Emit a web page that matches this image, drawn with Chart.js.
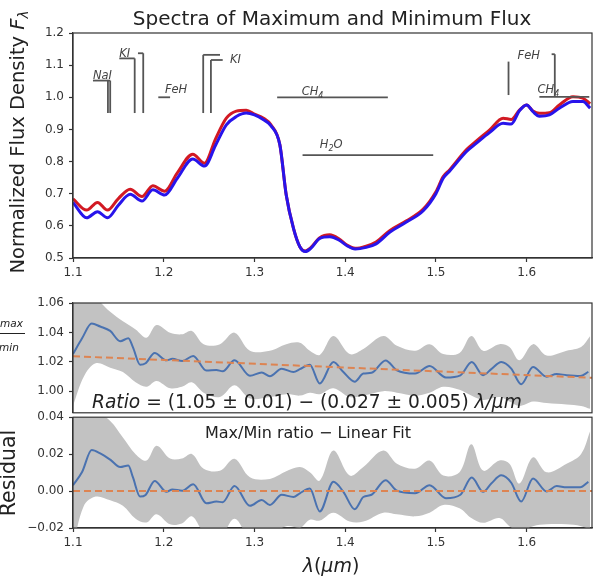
<!DOCTYPE html>
<html><head><meta charset="utf-8">
<script src="https://cdn.jsdelivr.net/npm/chart.js@4"></script>
<style>
html,body{margin:0;padding:0;background:#fff;}
#wrap{position:relative;width:600px;height:580px;overflow:hidden;background:#fff;}
canvas{position:absolute;left:0;}
</style></head><body>
<div id="wrap">
<canvas id="c1" width="600" height="290" style="top:0px"></canvas>
<canvas id="c2" width="600" height="135" style="top:290px"></canvas>
<canvas id="c3" width="600" height="175" style="top:405px"></canvas>
</div>
<script>
// ---------- data ----------
const xTicks = [1.1, 1.2, 1.3, 1.4, 1.5, 1.6];
const topYTicks = [0.5, 0.6, 0.7, 0.8, 0.9, 1.0, 1.1, 1.2];
const ratioYTicks = [1.00, 1.02, 1.04, 1.06];
const residYTicks = [-0.02, 0.00, 0.02, 0.04];

const topLambda = [1.100,1.115,1.127,1.138,1.150,1.163,1.176,1.188,1.201,1.215,1.232,1.245,1.257,1.269,1.280,1.291,1.300,1.310,1.318,1.328,1.335,1.343,1.350,1.356,1.362,1.372,1.383,1.393,1.402,1.411,1.423,1.434,1.449,1.467,1.486,1.500,1.508,1.515,1.534,1.545,1.559,1.574,1.583,1.592,1.600,1.607,1.614,1.625,1.636,1.651,1.662,1.670];
const fluxMax = [0.684,0.649,0.673,0.649,0.685,0.714,0.691,0.725,0.708,0.765,0.823,0.795,0.870,0.935,0.957,0.960,0.948,0.935,0.915,0.852,0.696,0.592,0.535,0.522,0.532,0.563,0.572,0.560,0.540,0.530,0.537,0.550,0.585,0.615,0.652,0.706,0.753,0.774,0.838,0.865,0.898,0.935,0.931,0.960,0.976,0.957,0.950,0.952,0.976,1.002,0.997,0.980];
const fluxMin = [0.673,0.625,0.644,0.625,0.664,0.698,0.677,0.712,0.696,0.748,0.808,0.786,0.850,0.914,0.940,0.951,0.945,0.930,0.912,0.852,0.696,0.592,0.535,0.520,0.530,0.561,0.566,0.556,0.538,0.528,0.533,0.544,0.580,0.611,0.647,0.700,0.748,0.770,0.832,0.858,0.890,0.919,0.917,0.958,0.976,0.955,0.941,0.945,0.966,0.987,0.987,0.966];

const ratioLambda = [1.100,1.110,1.1206,1.130,1.141,1.152,1.161,1.166,1.174,1.180,1.190,1.203,1.2095,1.2205,1.2325,1.247,1.258,1.265,1.278,1.295,1.308,1.317,1.330,1.343,1.350,1.361,1.372,1.387,1.398,1.4105,1.420,1.429,1.4445,1.457,1.477,1.493,1.511,1.527,1.5395,1.552,1.561,1.572,1.583,1.594,1.607,1.622,1.633,1.644,1.659,1.668];
const ratio = [1.0253,1.036,1.046,1.044,1.041,1.034,1.036,1.030,1.018,1.019,1.026,1.021,1.022,1.0205,1.024,1.014,1.0145,1.0135,1.021,1.0105,1.0127,1.0102,1.0153,1.0131,1.0150,1.0180,1.0053,1.0198,1.013,1.0065,1.012,1.0125,1.0209,1.0142,1.012,1.0171,1.0093,1.0108,1.0198,1.0109,1.015,1.0198,1.0153,1.0047,1.0164,1.0098,1.0117,1.0109,1.0104,1.0131];
const residual = [0.0032,0.0103,0.0222,0.0204,0.0170,0.0130,0.0139,0.0075,-0.0030,-0.0021,0.0055,-0.0004,0.0009,0.0002,0.0037,-0.0066,-0.0057,-0.0060,0.0027,-0.0080,-0.0048,-0.0075,-0.0020,-0.0032,-0.0012,0.0014,-0.0110,0.0050,-0.0004,-0.0098,-0.0032,-0.0020,0.0059,0.0002,-0.0012,0.0032,-0.0039,-0.0020,0.0073,-0.0004,0.0041,0.0085,0.0045,-0.0057,0.0068,-0.0002,0.0027,0.0020,0.0020,0.0050];

const bandLambda = [1.100,1.112,1.125,1.141,1.155,1.169,1.181,1.192,1.207,1.220,1.231,1.244,1.262,1.278,1.295,1.317,1.335,1.350,1.361,1.372,1.387,1.405,1.420,1.442,1.457,1.477,1.493,1.508,1.526,1.539,1.552,1.570,1.581,1.592,1.607,1.622,1.644,1.660,1.670];
const ratioUpper = [1.065,1.066,1.063,1.054,1.0475,1.042,1.0364,1.045,1.0398,1.0387,1.041,1.032,1.032,1.0398,1.0275,1.0275,1.032,1.033,1.0275,1.0247,1.0375,1.0253,1.0287,1.0375,1.0309,1.0275,1.032,1.0253,1.026,1.0375,1.0275,1.032,1.030,1.021,1.032,1.0242,1.0275,1.030,1.0375];
const ratioLower = [0.990,1.010,1.019,1.016,1.013,1.006,1.003,1.007,1.002,1.003,1.006,0.999,0.996,1.004,0.995,0.996,0.998,0.997,0.999,0.998,1.002,0.996,0.997,1.000,0.999,0.997,0.999,1.003,1.001,0.997,0.994,0.996,0.993,0.990,0.993,0.992,0.991,0.990,0.988];
const residUpper = [0.045,0.045,0.043,0.038,0.029,0.020,0.0165,0.0245,0.0176,0.0176,0.0201,0.0121,0.011,0.0175,0.0075,0.0066,0.0107,0.013,0.0102,0.0057,0.0219,0.0084,0.013,0.0219,0.0148,0.0121,0.0165,0.0084,0.0102,0.0254,0.0111,0.0165,0.0148,0.0041,0.0183,0.0102,0.0148,0.0201,0.0325];
const residLower = [-0.030,-0.008,-0.003,-0.005,-0.008,-0.015,-0.017,-0.0125,-0.018,-0.0175,-0.0137,-0.022,-0.025,-0.015,-0.025,-0.024,-0.019,-0.020,-0.0155,-0.016,-0.0117,-0.0165,-0.0165,-0.0117,-0.0126,-0.0137,-0.0117,-0.0075,-0.0093,-0.0146,-0.0172,-0.0146,-0.019,-0.022,-0.019,-0.018,-0.018,-0.019,-0.021];

const fitLambda = [1.100, 1.672];
const fitRatio = [1.0238, 1.0091];
const fitResidual = [0.0, 0.0];

// line annotations in data coords: [x1, y1, x2, y2]
const featureLines = [
  [1.122,1.052,1.141,1.052],[1.1385,1.052,1.1385,0.951],[1.141,1.052,1.141,0.951],
  [1.151,1.121,1.168,1.121],[1.168,1.121,1.168,0.951],[1.1716,1.137,1.1774,1.137],[1.1774,1.137,1.1774,0.951],
  [1.194,1.000,1.207,1.000],
  [1.2435,1.132,1.262,1.132],[1.2435,1.132,1.2435,0.951],[1.252,1.116,1.265,1.116],[1.252,1.116,1.252,0.951],
  [1.325,1.000,1.447,1.000],
  [1.353,0.820,1.497,0.820],
  [1.580,1.111,1.580,1.007],
  [1.6275,1.134,1.631,1.134],[1.631,1.134,1.631,1.004],
  [1.614,1.001,1.669,1.001]
];
// labels: [text, subscript, after, x, y]
const featureLabels = [
  ['NaI','','',1.122,1.057],
  ['KI','','',1.151,1.124],
  ['FeH','','',1.2013,1.012],
  ['KI','','',1.273,1.108],
  ['CH','4','',1.352,1.008],
  ['H','2','O',1.372,0.842],
  ['FeH','','',1.590,1.120],
  ['CH','4','',1.612,1.012]
];

// ---------- helpers ----------
const FAM = '"DejaVu Sans", "Liberation Sans", sans-serif';
const pts = (xs, ys) => xs.map((x, i) => ({x: x, y: ys[i]}));
function runs(ctx, x, y, parts, align) {
  let total = 0;
  parts.forEach(p => { ctx.font = p[1]; total += ctx.measureText(p[0]).width; });
  let cx = align === 'center' ? x - total / 2 : x;
  parts.forEach(p => { ctx.font = p[1]; ctx.fillText(p[0], cx, y + (p[2] || 0)); cx += ctx.measureText(p[0]).width; });
  return total;
}
function frame(chart) {
  const {ctx, chartArea: a} = chart;
  ctx.save(); ctx.strokeStyle = '#333'; ctx.lineWidth = 1.2;
  ctx.strokeRect(a.left, a.top, a.right - a.left, a.bottom - a.top);
  ctx.restore();
}
function xScale(display) {
  return {
    type: 'linear', min: 1.1, max: 1.672, display: display,
    afterBuildTicks: s => { s.ticks = xTicks.map(v => ({value: v})); },
    afterFit: s => { s.height = display ? 30 : 0; },
    ticks: {autoSkip: false, maxRotation: 0, callback: v => v.toFixed(1), font: {family: FAM, size: 12}, color: '#333', padding: 4},
    grid: {display: true, drawOnChartArea: false, drawTicks: true, tickLength: 4, color: '#333', tickWidth: 1.2},
    border: {display: true, color: '#333', width: 1.2}
  };
}
function yScale(min, max, ticks, fmt) {
  return {
    type: 'linear', min: min, max: max,
    afterBuildTicks: s => { s.ticks = ticks.map(v => ({value: v})); },
    afterFit: s => { s.width = 73; },
    ticks: {autoSkip: false, callback: fmt, font: {family: FAM, size: 12}, color: '#333', padding: 5},
    grid: {display: true, drawOnChartArea: false, drawTicks: true, tickLength: 4, color: '#333', tickWidth: 1.2},
    border: {display: true, color: '#333', width: 1.2}
  };
}
const base = {
  responsive: false, animation: false, devicePixelRatio: 1,
  plugins: {legend: {display: false}, tooltip: {enabled: false}, title: {display: false}},
  elements: {point: {radius: 0}}
};

// ---------- top chart ----------
new Chart(document.getElementById('c1'), {
  type: 'line',
  data: {datasets: [
    {data: pts(topLambda, fluxMin), borderColor: 'rgb(40,20,235)', borderWidth: 3, cubicInterpolationMode: 'monotone', fill: false},
    {data: pts(topLambda, fluxMax), borderColor: 'rgb(210,25,35)', borderWidth: 3, cubicInterpolationMode: 'monotone', fill: false}
  ]},
  options: Object.assign({}, base, {
    layout: {padding: {left: 0, right: 8, top: 33, bottom: 2}},
    scales: {x: xScale(true), y: yScale(0.5, 1.2, topYTicks, v => v.toFixed(1))}
  }),
  plugins: [{id: 'topdeco', afterDraw(chart) {
    frame(chart);
    const ctx = chart.ctx, sx = chart.scales.x, sy = chart.scales.y;
    ctx.save();
    ctx.strokeStyle = '#555'; ctx.lineWidth = 1.8;
    featureLines.forEach(l => {
      ctx.beginPath();
      ctx.moveTo(sx.getPixelForValue(l[0]), sy.getPixelForValue(l[1]));
      ctx.lineTo(sx.getPixelForValue(l[2]), sy.getPixelForValue(l[3]));
      ctx.stroke();
    });
    ctx.fillStyle = '#444'; ctx.textBaseline = 'alphabetic';
    featureLabels.forEach(t => {
      const parts = [[t[0], 'italic 11.5px ' + FAM, 0]];
      if (t[1]) parts.push([t[1], 'italic 8px ' + FAM, 3]);
      if (t[2]) parts.push([t[2], 'italic 11.5px ' + FAM, 0]);
      runs(ctx, sx.getPixelForValue(t[3]), sy.getPixelForValue(t[4]), parts, 'left');
    });
    ctx.fillStyle = '#222';
    runs(ctx, 332, 25, [['Spectra of Maximum and Minimum Flux', '20px ' + FAM, 0]], 'center');
    ctx.translate(24, 142); ctx.rotate(-Math.PI / 2);
    runs(ctx, 0, 0, [['Normalized Flux Density ', '19.5px ' + FAM, 0], ['F', 'italic 19.5px ' + FAM, 0], ['λ', 'italic 13.5px ' + FAM, 4]], 'center');
    ctx.restore();
  }}]
});

// ---------- ratio chart ----------
new Chart(document.getElementById('c2'), {
  type: 'line',
  data: {datasets: [
    {data: pts(fitLambda, fitRatio), borderColor: '#dd8452', borderWidth: 2, borderDash: [7, 4], fill: false},
    {data: pts(ratioLambda, ratio), borderColor: '#4a72b0', borderWidth: 2, cubicInterpolationMode: 'monotone', fill: false},
    {data: pts(bandLambda, ratioUpper), borderColor: 'rgba(0,0,0,0)', borderWidth: 0, tension: 0.35, fill: false},
    {data: pts(bandLambda, ratioLower), borderColor: 'rgba(0,0,0,0)', borderWidth: 0, tension: 0.35, fill: '-1', backgroundColor: '#c2c2c2'}
  ]},
  options: Object.assign({}, base, {
    layout: {padding: {left: 0, right: 8, top: 13, bottom: 10}},
    scales: {x: xScale(false), y: yScale(0.9853, 1.06, ratioYTicks, v => v.toFixed(2))}
  }),
  plugins: [{id: 'middeco', afterDraw(chart) {
    frame(chart);
    const ctx = chart.ctx;
    ctx.save();
    ctx.fillStyle = '#222'; ctx.textBaseline = 'alphabetic';
    const mid = ' = (1.05 ± 0.01) − (0.027 ± 0.005) ';
    let fs = 17;
    ctx.font = 'italic ' + fs + 'px ' + FAM;
    let w = ctx.measureText('Ratio').width + ctx.measureText('λ/μm').width;
    ctx.font = fs + 'px ' + FAM; w += ctx.measureText(mid).width;
    fs = Math.min(19, fs * 430 / w);
    runs(ctx, 92, 118, [['Ratio', 'italic ' + fs + 'px ' + FAM, 0], [mid, fs + 'px ' + FAM, 0], ['λ/μm', 'italic ' + fs + 'px ' + FAM, 0]], 'left');
    ctx.font = 'italic 16px ' + FAM; ctx.fillText('F', -13, 36); ctx.fillText('F', -14, 61);
    ctx.font = 'italic 10.5px ' + FAM; ctx.fillText('max', 0, 37); ctx.fillText('min', -1, 61);
    ctx.strokeStyle = '#222'; ctx.lineWidth = 1;
    ctx.beginPath(); ctx.moveTo(-2, 43.5); ctx.lineTo(25, 43.5); ctx.stroke();
    ctx.restore();
  }}]
});

// ---------- residual chart ----------
new Chart(document.getElementById('c3'), {
  type: 'line',
  data: {datasets: [
    {data: pts(fitLambda, fitResidual), borderColor: '#dd8452', borderWidth: 2, borderDash: [7, 4], fill: false},
    {data: pts(ratioLambda, residual), borderColor: '#4a72b0', borderWidth: 2, cubicInterpolationMode: 'monotone', fill: false},
    {data: pts(bandLambda, residUpper), borderColor: 'rgba(0,0,0,0)', borderWidth: 0, tension: 0.35, fill: false},
    {data: pts(bandLambda, residLower), borderColor: 'rgba(0,0,0,0)', borderWidth: 0, tension: 0.35, fill: '-1', backgroundColor: '#c2c2c2'}
  ]},
  options: Object.assign({}, base, {
    layout: {padding: {left: 0, right: 8, top: 10, bottom: 22}},
    scales: {x: xScale(true), y: yScale(-0.02, 0.04, residYTicks, v => (v < 0 ? '−' : '') + Math.abs(v).toFixed(2))}
  }),
  plugins: [{id: 'botdeco', afterDraw(chart) {
    frame(chart);
    const ctx = chart.ctx;
    ctx.save();
    ctx.fillStyle = '#222'; ctx.textBaseline = 'alphabetic';
    runs(ctx, 308, 33, [['Max/Min ratio − Linear Fit', '16px ' + FAM, 0]], 'center');
    runs(ctx, 331, 167, [['λ', 'italic 19px ' + FAM, 0], ['(', '19px ' + FAM, 0], ['μm', 'italic 19px ' + FAM, 0], [')', '19px ' + FAM, 0]], 'center');
    ctx.translate(15, 68); ctx.rotate(-Math.PI / 2);
    runs(ctx, 0, 0, [['Residual', '20.5px ' + FAM, 0]], 'center');
    ctx.restore();
  }}]
});
</script>
</body></html>
